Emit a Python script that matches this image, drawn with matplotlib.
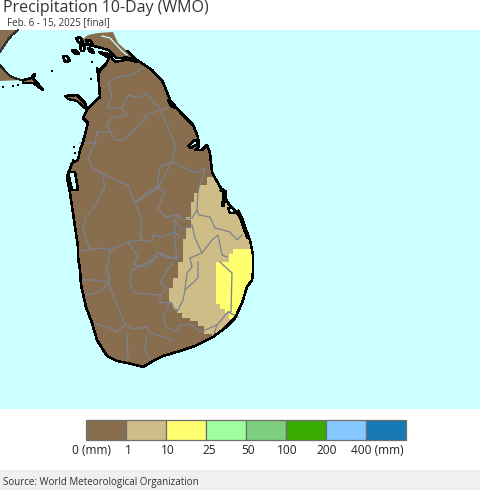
import matplotlib
matplotlib.use("Agg")
import matplotlib.pyplot as plt
from matplotlib.patches import Polygon, Rectangle

plt.rcParams["font.family"] = ["Open Sans", "DejaVu Sans"]

# everything below in picture pixels
TITLE = "Precipitation 10-Day (WMO)"
SUBTITLE = "Feb. 6 - 15, 2025 [final]"
SOURCE = "Source: World Meteorological Organization"

bin_labels = ["0 (mm)", "1", "10", "25", "50", "100", "200", "400 (mm)"]
bin_colors = ["#886e4e", "#cfbd87", "#ffff70", "#9fff9f", "#7dcf7f", "#38ab00", "#85c8ff", "#187ab5"]
label_x = [91, 128, 168, 209, 248, 287, 327, 377]

land_x = [125, 137, 152, 163, 170, 180, 193, 198, 199, 195, 202, 207, 210, 212, 215, 222, 228, 240,
          245, 250, 253, 253, 252, 247, 242, 235, 225, 213, 195, 180, 163, 153, 143, 132, 117, 107, 97, 92,
          86, 81, 80, 78, 78, 74, 70, 67, 72, 78, 80, 83, 88, 83, 88, 100, 98, 106, 109, 99, 109, 115]
land_y = [60, 60, 70, 82, 100, 112, 125, 137, 147, 150, 150, 145, 153, 172, 178, 190, 203, 217,
          232, 240, 255, 272, 280, 287, 303, 318, 328, 337, 346, 351, 356, 361, 367, 364, 361, 356, 340, 323,
          307, 285, 270, 257, 247, 220, 193, 177, 163, 160, 150, 142, 123, 118, 108, 97, 72, 64, 58, 52, 54, 62]

peninsula_x = [80, 88, 98, 113, 118, 127, 137, 125, 117, 108, 98, 88, 80]
peninsula_y = [41, 35, 33, 32, 43, 51, 60, 58, 58, 50, 47, 45, 44]
peninsula_edge = [5, 6, 7, 8, 9, 10, 11, 12]
jaffna_stripe_x = [102, 110, 122, 127]
jaffna_stripe_y = [36, 38, 51, 55]

india_north_x = [0, 18, 12, 7, 0]
india_north_y = [30, 30, 35, 41, 52]
india_south_x = [0, 5, 10, 17, 22, 0]
india_south_y = [65, 71, 76, 79, 80, 81]
india_tail_x = [23, 32, 35, 43, 33, 23]
india_tail_y = [80, 78, 80, 90, 83, 83]
mannar_x = [65, 77, 85, 87, 77, 68]
mannar_y = [96, 95, 103, 110, 101, 99]

loop_x = [[63, 67, 70, 65], [76, 80, 83, 79], [72, 76, 79, 75], [80, 85, 84, 81], [86, 90, 93, 89],
          [88, 92, 94, 90], [32, 35, 34], [188, 195, 199, 191], [228, 233, 235, 230], [168, 172, 175, 171],
          [68, 75, 78, 72], [97, 100, 98]]
loop_y = [[56, 56, 61, 62], [38, 37, 42, 43], [50, 50, 54, 54], [46, 46, 51, 51], [40, 40, 45, 45],
          [48, 49, 53, 52], [76, 74, 78], [146, 140, 143, 148], [208, 208, 213, 213], [100, 102, 108, 106],
          [172, 172, 190, 190], [68, 71, 74]]
dot_x = [52, 91, 92, 13, 18, 3, 74, 75, 73]
dot_y = [71, 79, 62, 86, 85, 87, 147, 153, 160]
thick_x = [[238, 241, 244, 246, 248], [222, 225, 223], [125, 137]]
thick_y = [[212, 218, 226, 232, 237], [190, 192, 205], [58, 61]]

tan_x = [256, 207, 207, 199, 199, 194, 194, 191, 191, 186, 186, 191, 191, 186, 186, 183, 183, 178,
         178, 173, 173, 169, 169, 173, 173, 177, 177, 182, 182, 190, 190, 198, 198, 204, 204, 212,
         212, 256]
tan_y = [177, 177, 185, 185, 193, 193, 202, 202, 217, 217, 220, 220, 228, 228, 239, 239, 262, 262,
         278, 278, 288, 288, 303, 303, 309, 309, 313, 313, 318, 318, 321, 321, 326, 326, 334, 334,
         345, 345]
yellow_x = [256, 233, 233, 229, 229, 216, 216, 220, 220, 225, 225, 229, 229, 233, 233, 256]
yellow_y = [249, 249, 254, 254, 262, 262, 304, 304, 309, 309, 313, 313, 319, 319, 323, 323]

admin_lines = [
    [(143, 68), (132, 75), (117, 77), (108, 83), (112, 97), (107, 108), (122, 108), (127, 115),
     (112, 118), (107, 125), (115, 140), (123, 140), (132, 132), (147, 118), (143, 116), (160, 110), (168, 108)],
    [(122, 108), (128, 95), (140, 98), (147, 93), (153, 102), (160, 108)],
    [(160, 110), (168, 127), (175, 145), (172, 162), (160, 167), (157, 187), (147, 193), (135, 203)],
    [(172, 162), (183, 167), (195, 173), (205, 168), (203, 177), (198, 190), (197, 210), (199, 215),
     (210, 217), (215, 228), (230, 232), (237, 240), (242, 235)],
    [(80, 143), (95, 143), (97, 132), (110, 132)],
    [(95, 143), (88, 158), (92, 168), (102, 173), (105, 187), (100, 197), (92, 210), (85, 218), (83, 230), (90, 250)],
    [(102, 173), (120, 182), (128, 185), (135, 203), (142, 220), (140, 235), (142, 240), (128, 242),
     (110, 250), (100, 248), (90, 250), (80, 251)],
    [(135, 203), (148, 195), (158, 188), (165, 192), (158, 208), (165, 217), (178, 215)],
    [(142, 240), (152, 242), (153, 235), (162, 237), (175, 232), (180, 237)],
    [(128, 242), (138, 257), (133, 265), (148, 267), (158, 252), (165, 258), (178, 257)],
    [(110, 250), (108, 263), (105, 273), (110, 280)],
    [(158, 188), (170, 165)],
    [(197, 210), (192, 218), (182, 220), (178, 215), (175, 220), (182, 230), (192, 225), (195, 238),
     (202, 253), (212, 240), (218, 235), (222, 255), (227, 257)],
    [(202, 253), (190, 258), (192, 267), (187, 273), (185, 290), (198, 278), (198, 262)],
    [(220, 262), (232, 273), (231, 312), (228, 312), (217, 325), (200, 332), (192, 325), (180, 325),
     (177, 332), (167, 328), (163, 317), (170, 302), (160, 303), (160, 295), (135, 293), (130, 283), (132, 270), (140, 267), (157, 257)],
    [(175, 220), (175, 243), (177, 260), (157, 252)],
    [(185, 290), (183, 300), (177, 312), (170, 302)],
    [(173, 262), (160, 282), (167, 288), (160, 295)],
    [(80, 280), (93, 280), (108, 282), (100, 292), (85, 295)],
    [(108, 282), (118, 307), (125, 325), (117, 332), (110, 328), (92, 323)],
    [(125, 325), (132, 329), (147, 327), (150, 333), (167, 338), (172, 340)],
    [(147, 335), (145, 350), (152, 362)],
    [(127, 333), (128, 358), (125, 361)],
    [(228, 312), (238, 317)],
    [(217, 325), (213, 337)],
    [(108, 270), (108, 282)],
]


def main():
    fig = plt.figure(figsize=(4.8, 4.9), dpi=100)
    ax = fig.add_axes([0, 0, 1, 1])
    ax.set_xlim(0, 480)
    ax.set_ylim(490, 0)
    ax.axis("off")

    # map frame, footer strip
    ax.add_patch(Rectangle((0, 30), 480, 379, fc="#ccffff", ec="none", zorder=0))
    ax.add_patch(Rectangle((0, 470), 480, 20, fc="#f0eff2", ec="none", zorder=0))

    land = Polygon(list(zip(land_x, land_y)), closed=True, fc=bin_colors[0], ec="none", zorder=1)
    ax.add_patch(land)
    for xs, ys in [(india_north_x, india_north_y), (india_south_x, india_south_y),
                   (india_tail_x, india_tail_y), (mannar_x, mannar_y), (peninsula_x, peninsula_y)]:
        ax.fill(xs, ys, color=bin_colors[0], lw=0, zorder=1)
    ax.plot(jaffna_stripe_x, jaffna_stripe_y, color="#ccffff", lw=0.9, zorder=2)

    # rain classes only show on land
    for xs, ys, color in [(tan_x, tan_y, bin_colors[1]), (yellow_x, yellow_y, bin_colors[2])]:
        patch = ax.fill(xs, ys, color=color, lw=0, zorder=2, antialiased=False)[0]
        patch.set_clip_path(land)

    for line in admin_lines:
        xs, ys = zip(*line)
        ax.plot(xs, ys, color="#7b8290", lw=0.9, zorder=3, solid_joinstyle="miter")

    ax.plot(land_x + land_x[:1], land_y + land_y[:1], color="black", lw=1.1, zorder=5, antialiased=False)
    ax.plot([peninsula_x[i] for i in peninsula_edge], [peninsula_y[i] for i in peninsula_edge],
            color="black", lw=1.0, zorder=5, antialiased=False)
    ax.plot(india_south_x[:5], india_south_y[:5], color="#222222", lw=0.8, zorder=5, antialiased=False)
    ax.plot(india_tail_x + india_tail_x[:1], india_tail_y + india_tail_y[:1], color="black", lw=1.0, zorder=5,
            antialiased=False)
    ax.plot(mannar_x[:4], mannar_y[:4], color="black", lw=1.1, zorder=5, antialiased=False)
    ax.plot(mannar_x[3:] + mannar_x[:1], mannar_y[3:] + mannar_y[:1], color="black", lw=0.8, zorder=5,
            antialiased=False)
    ax.plot(india_north_x[1:], india_north_y[1:], color="#333333", lw=0.8, zorder=5, antialiased=False)

    for xs, ys in zip(loop_x, loop_y):
        ax.fill(xs, ys, fc="#ccffff", ec="black", lw=1.0, zorder=6, antialiased=False)
    ax.scatter(dot_x, dot_y, s=3, c="black", marker="s", lw=0, zorder=6)
    for xs, ys in zip(thick_x, thick_y):
        ax.plot(xs, ys, color="black", lw=2.2, zorder=6, antialiased=False)

    # legend boxes with labels on the box edges
    box_x = 86
    box_w = 40
    for i, color in enumerate(bin_colors):
        ax.add_patch(Rectangle((box_x + i * box_w, 420), box_w, 20, fc=color, ec="#6e6e6e", lw=0.9, zorder=2))
    for x, label in zip(label_x, bin_labels):
        ax.text(x, 450, label, ha="center", va="center", fontsize=8.6, color="#222222")

    ax.text(3, 8, TITLE, ha="left", va="center", fontsize=11.5, color="#333333")
    ax.text(7, 23, SUBTITLE, ha="left", va="center", fontsize=7.05, color="#333333")
    ax.text(3, 482, SOURCE, ha="left", va="center", fontsize=7.05, color="#333333")

    fig.savefig("out.png", dpi=100)
    plt.close(fig)


if __name__ == "__main__":
    main()
